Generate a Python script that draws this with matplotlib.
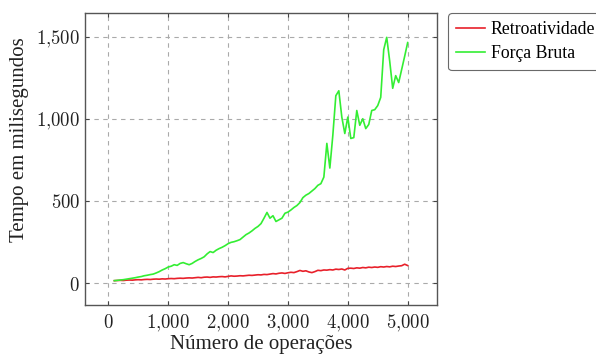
import numpy as np
import matplotlib
matplotlib.use("Agg")
import matplotlib.pyplot as plt
from matplotlib.ticker import FuncFormatter, FixedLocator

operacoes = list(range(100, 5001, 50))

retroatividade = [15, 16, 17, 16, 18, 19, 18, 20, 21, 20, 22, 23, 22, 24, 25, 24, 26, 25, 27, 28,
                  27, 29, 30, 29, 31, 32, 31, 33, 35, 33, 36, 37, 35, 38, 37, 39, 40, 38, 41, 44,
                  42, 43, 45, 44, 46, 48, 47, 49, 51, 50, 53, 52, 55, 58, 56, 60, 62, 59, 63, 66,
                  64, 70, 77, 72, 75, 68, 64, 70, 78, 76, 80, 79, 82, 80, 85, 83, 86, 80, 90, 91,
                  89, 93, 91, 95, 93, 97, 95, 98, 96, 100, 98, 101, 99, 103, 101, 104, 106, 115, 107]

forca_bruta = [15, 17, 19, 21, 24, 27, 30, 33, 37, 40, 45, 48, 52, 55, 62, 70, 80, 88, 98, 103,
               112, 108, 120, 125, 118, 112, 120, 132, 142, 150, 160, 178, 192, 186, 200, 210, 218, 228, 240, 248,
               252, 258, 265, 280, 295, 305, 318, 333, 345, 362, 395, 430, 395, 410, 375, 385, 395, 425, 432, 445,
               460, 472, 490, 520, 535, 545, 560, 575, 595, 605, 645, 850, 700, 900, 1140, 1170, 1010, 910, 1010, 880,
               885, 1050, 960, 1000, 940, 965, 1050, 1055, 1080, 1130, 1420, 1495, 1350, 1185, 1262, 1220, 1300, 1380, 1463]

x_ticks = [0, 1000, 2000, 3000, 4000, 5000]
y_ticks = [0, 500, 1000, 1500]

plt.rcParams['mathtext.fontset'] = 'cm'

fig = plt.figure(figsize=(5.96, 3.58), dpi=100)
ax = fig.add_axes([85/596, 1-305/358, (437-85)/596, (305-13)/358])

ax.plot(operacoes, retroatividade, color='#e8202a', lw=1.2, label='Retroatividade')
ax.plot(operacoes, forca_bruta, color='#33ee33', lw=1.2, label='Força Bruta')

xr = operacoes[-1] - operacoes[0]
ymin, ymax = min(retroatividade + forca_bruta), max(retroatividade + forca_bruta)
yr = ymax - ymin
ax.set_xlim(operacoes[0] - 0.1*xr, operacoes[-1] + 0.1*xr)
ax.set_ylim(ymin - 0.1*yr, ymax + 0.1*yr)

ax.xaxis.set_major_locator(FixedLocator(x_ticks))
ax.yaxis.set_major_locator(FixedLocator(y_ticks))
fmt = FuncFormatter(lambda v, p: r'$%s$' % ('{:,}'.format(int(v)).replace(',', '{,}')))
ax.xaxis.set_major_formatter(fmt)
ax.yaxis.set_major_formatter(fmt)
ax.tick_params(direction='in', length=3, width=0.8, colors='#444444', labelcolor='#222222',
               labelsize=13.5, top=True, right=True)
ax.tick_params(axis='x', pad=6)
ax.grid(True, linestyle=(0, (4, 4)), color='#aaaaaa', linewidth=0.8)
for s in ax.spines.values():
    s.set_color('#555555')
    s.set_linewidth(1.0)

ax.set_xlabel('Número de operações', fontsize=15, family='Liberation Serif', color='#222222')
ax.set_ylabel('Tempo em milisegundos', fontsize=15, family='Liberation Serif', color='#222222')
ax.xaxis.set_label_coords(0.5, (305-344)/292, transform=ax.transAxes)
ax.yaxis.set_label_coords((20-85)/352, (305-140)/292, transform=ax.transAxes)
ax.xaxis.label.set_va('center')
ax.yaxis.label.set_va('center')

leg = fig.legend(loc='upper left', bbox_to_anchor=(448/596, 1-13/358), frameon=True,
                 prop={'family': 'Liberation Serif', 'size': 12.8}, handlelength=1.65,
                 handletextpad=0.3, borderpad=0.45, labelspacing=0.4, borderaxespad=0,
                 fancybox=True)
leg.get_frame().set_edgecolor('#444444')
leg.get_frame().set_linewidth(0.8)

fig.savefig('out.png', dpi=100)
